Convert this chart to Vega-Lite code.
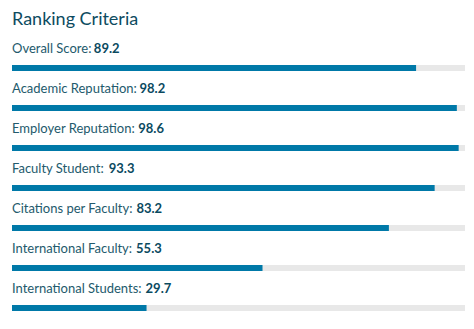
{
  "$schema": "https://vega.github.io/schema/vega-lite/v6.json",
  "width": 453,
  "height": 280,
  "autosize": "none",
  "padding": {"left": 12, "top": 48, "right": 9, "bottom": 1},
  "background": "white",
  "title": {"text": "Ranking Criteria", "anchor": "start", "frame": "group", "font": "Lato", "fontSize": 18, "fontWeight": "normal", "color": "#0d4b60", "offset": 14},
  "data": {"values": [
    {"criterion": "Overall Score", "value": 89.2},
    {"criterion": "Academic Reputation", "value": 98.2},
    {"criterion": "Employer Reputation", "value": 98.6},
    {"criterion": "Faculty Student", "value": 93.3},
    {"criterion": "Citations per Faculty", "value": 83.2},
    {"criterion": "International Faculty", "value": 55.3},
    {"criterion": "International Students", "value": 29.7}
  ]},
  "encoding": {
    "y": {"field": "criterion", "type": "nominal", "sort": null, "axis": null, "scale": {"paddingInner": 0, "paddingOuter": 0}}
  },
  "layer": [
    {"mark": {"type": "bar", "height": 6, "color": "#e8e8e8"},
     "encoding": {"x": {"datum": 100, "type": "quantitative", "scale": {"domain": [0, 100]}, "axis": null}}},
    {"mark": {"type": "bar", "height": 6, "color": "#0079a8"},
     "encoding": {"x": {"field": "value", "type": "quantitative"}}},
    {"mark": {"type": "text", "align": "left", "baseline": "alphabetic", "dy": -15, "font": "Lato", "fontSize": 13, "color": "#235a6c", "text": {"expr": "datum.criterion + ':'"}},
     "encoding": {"x": {"datum": 0, "type": "quantitative"}}},
    {"mark": {"type": "text", "align": "left", "baseline": "alphabetic", "dy": -15, "font": "Lato", "fontSize": 13, "fontWeight": "bold", "color": "#0b4a5f",
      "dx": {"expr": "2.2 + 13.15 * (0.555 * length(datum.criterion + ': ') - 0.315 * (length(datum.criterion + ': ') - length(replace(datum.criterion + ': ', regexp('[iljI:]', 'g'), ''))) - 0.362 * (length(datum.criterion + ': ') - length(replace(datum.criterion + ': ', regexp(' ', 'g'), ''))) - 0.2 * (length(datum.criterion) - length(replace(datum.criterion, regexp('[trf]', 'g'), ''))) - 0.125 * (length(datum.criterion) - length(replace(datum.criterion, regexp('[csz]', 'g'), ''))) - 0.055 * (length(datum.criterion) - length(replace(datum.criterion, regexp('[aeyvkx]', 'g'), ''))) + 0.265 * (length(datum.criterion) - length(replace(datum.criterion, regexp('[mw]', 'g'), ''))) + 0.145 * (length(datum.criterion) - length(replace(datum.criterion, regexp('[ACDGHNOQU]', 'g'), ''))))"}},
     "encoding": {"x": {"datum": 0, "type": "quantitative"}, "text": {"field": "value", "type": "quantitative", "format": ".1f"}}}
  ],
  "config": {"view": {"stroke": null}}
}
